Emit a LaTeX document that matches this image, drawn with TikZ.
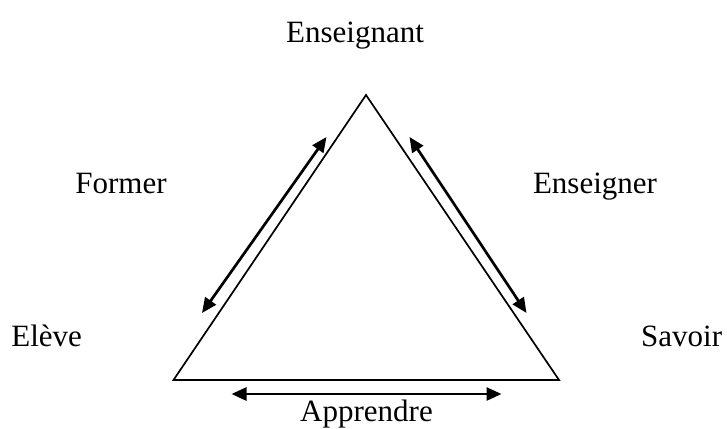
\documentclass[tikz,border=0pt]{standalone}
\usepackage{fontspec}
\setmainfont{Liberation Serif}
\usetikzlibrary{arrows.meta}
\begin{document}
\begin{tikzpicture}[x=1pt,y=-1pt,
  lbl/.style={anchor=base,inner sep=0pt,font=\fontsize{31}{37}\selectfont},
  tri/.style={line width=1.7pt,line join=miter},
  dbl/.style={line width=2.7pt,{Triangle[length=15pt,width=13pt]}-{Triangle[length=15pt,width=13pt]}}]
\useasboundingbox (0,0) rectangle (727,428);
\coordinate (T) at (366,95);
\coordinate (L) at (173.5,380);
\coordinate (R) at (559,380);
\draw[tri] (T) -- (L) -- (R) -- cycle;
\coordinate (a1) at (326.5,137);
\coordinate (a2) at (202,313);
\coordinate (b1) at (409.5,137);
\coordinate (b2) at (526.5,313);
\coordinate (c1) at (231.5,394);
\coordinate (c2) at (501.5,394);
\draw[dbl] (a2) -- (a1);
\draw[dbl] (b1) -- (b2);
\draw[dbl] (c1) -- (c2);
\node[lbl] (ens) at (355,42) {Enseignant};
\node[lbl] (for) at (121,193) {Former};
\node[lbl] (eng) at (595,193) {Enseigner};
\node[lbl] (ele) at (46.7,346) {Elève};
\node[lbl] (sav) at (681.7,346) {Savoir};
\node[lbl] (app) at (366.5,421) {Apprendre};
\end{tikzpicture}
\end{document}
